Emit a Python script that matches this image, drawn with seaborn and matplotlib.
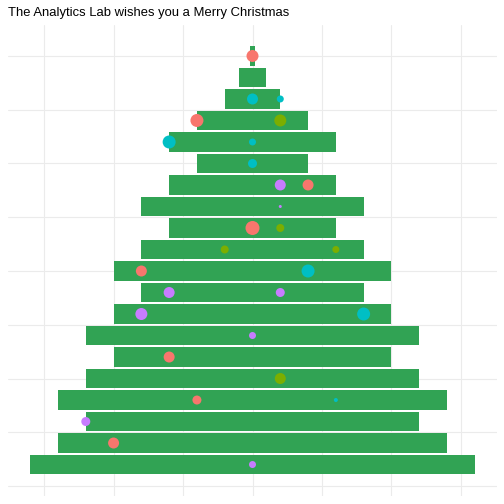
import numpy as np
import pandas as pd
import matplotlib
matplotlib.use("Agg")
import matplotlib.pyplot as plt
import seaborn as sns

sns.set_theme(style="white")
plt.rcParams['font.family'] = ['Liberation Sans', 'DejaVu Sans']

# tree layers, bottom (1) to top (20), half widths
rows = list(range(1, 21))
half_width = [8, 7, 6, 7, 6, 5, 6, 5, 4, 5, 4, 3, 4, 3, 2, 3, 2, 1, 0.5, 0.1]

# ornaments
orn_x = [0, 0, 1, -2, 1, -3, 0, 0, 1, 2, 1, 0, 1, -1, 3, -4, 2, -3, 1, -4, 4,
         0, -3, 1, -2, 3, -6, -5, 0]
orn_y = [20, 18, 18, 17, 17, 16, 16, 15, 14, 14, 13, 12, 12, 11, 11, 10, 10, 9, 9, 8, 8,
         7, 6, 5, 4, 4, 3, 2, 1]
orn_col = ['a', 'c', 'c', 'a', 'b', 'c', 'c', 'c', 'd', 'a', 'd', 'a', 'b', 'b', 'b', 'a', 'c',
           'd', 'd', 'd', 'c', 'd', 'a', 'b', 'a', 'c', 'd', 'a', 'd']
orn_size = [12, 11, 7, 13, 12, 13, 7, 9, 11, 11, 3, 14, 8, 8, 7, 11, 13, 11, 9, 12, 13,
            7, 11, 11, 9, 4, 9, 11, 7]

palette = {'a': '#F8766D', 'b': '#7CAE00', 'c': '#00BFC4', 'd': '#C77CFF'}

tree = pd.DataFrame({'row': rows, 'right': half_width,
                     'left': [-w for w in half_width]})
orn = pd.DataFrame({'x': orn_x, 'y': orn_y, 'col': orn_col, 'size': orn_size})

fig = plt.figure(figsize=(7, 7), dpi=72)
ax = fig.add_axes([8 / 504, 1 - 495.6 / 504, 489 / 504, 470.7 / 504])

for side in ['right', 'left']:
    sns.barplot(data=tree, x=side, y='row', orient='h', native_scale=True,
                width=0.9, color='#31A354', saturation=1, linewidth=0,
                ax=ax, zorder=2)

sns.scatterplot(data=orn, x='x', y='y', hue='col', palette=palette,
                size='size', sizes={s: s ** 2 for s in set(orn_size)},
                linewidth=0, legend=False, ax=ax, zorder=3)

ax.set_xlim(-8.8, 8.8)
ax.set_ylim(-0.445, 21.445)
ax.set_xticks(np.arange(-7.5, 7.6, 2.5))
ax.set_yticks(np.arange(0, 20.1, 2.5))
ax.grid(True, color='#EBEBEB', linewidth=1.1, zorder=0)
ax.set_axisbelow(True)
ax.tick_params(length=0, labelbottom=False, labelleft=False)
ax.set_xlabel('')
ax.set_ylabel('')
sns.despine(ax=ax, left=True, bottom=True)

fig.text(8 / 504, 1 - 13 / 504, 'The Analytics Lab wishes you a Merry Christmas',
         fontsize=13, va='center', ha='left', color='black')

fig.savefig('out.png', dpi=72)
